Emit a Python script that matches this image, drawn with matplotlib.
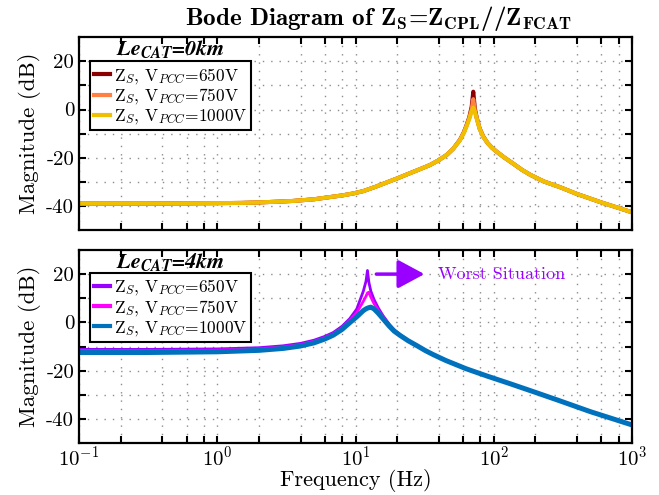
import matplotlib
matplotlib.use("Agg")
import matplotlib.pyplot as plt
from matplotlib.ticker import LogLocator, FixedLocator, NullFormatter

plt.rcParams['font.family'] = 'cmr10'
plt.rcParams['mathtext.fontset'] = 'cm'
plt.rcParams['axes.formatter.use_mathtext'] = True

# ---- data (Hz, dB) ----
# Le_CAT = 0 km
f_top = [0.1, 0.3, 1, 1.5, 2, 2.7, 3.5, 5, 6.5, 8, 9.6, 11.4, 14, 16.5, 19.9, 24, 29, 34.6,
         40, 45.7, 51, 57, 61, 63.7, 66.5, 69.2, 71.1, 73, 75.3, 79, 84, 90, 97, 105, 120,
         138, 160, 183, 230, 302, 400, 600, 800, 1000]
mag_top_1000 = [-39.0, -39.0, -38.8, -38.7, -38.5, -38.2, -37.9, -37.2, -36.3, -35.6, -34.8, -33.8,
                -32.0, -30.4, -28.6, -26.7, -24.8, -23.0, -21.0, -18.8, -16.2, -12.7, -9.5, -6.8,
                -4.0, -0.8, 0.8, -1.0, -3.8, -8.0, -11.4, -13.8, -15.8, -17.5, -20.0, -22.4,
                -25.0, -27.0, -29.8, -32.2, -35.0, -38.5, -40.8, -42.6]
mag_top_750 = [-39.0, -39.0, -38.8, -38.7, -38.5, -38.2, -37.9, -37.2, -36.3, -35.6, -34.8, -33.8,
               -32.0, -30.4, -28.6, -26.7, -24.8, -23.0, -21.0, -18.8, -16.2, -12.6, -9.4, -6.6,
               -3.6, 0.2, 4.3, -0.3, -3.6, -7.9, -11.3, -13.8, -15.8, -17.5, -20.0, -22.4,
               -25.0, -27.0, -29.8, -32.2, -35.0, -38.5, -40.8, -42.6]
mag_top_650 = [-39.0, -39.0, -38.8, -38.7, -38.5, -38.2, -37.9, -37.2, -36.3, -35.6, -34.8, -33.8,
               -32.0, -30.4, -28.6, -26.7, -24.8, -23.0, -21.0, -18.8, -16.2, -12.5, -9.2, -6.3,
               -3.2, 1.2, 7.4, 0.5, -3.4, -7.8, -11.2, -13.8, -15.8, -17.5, -20.0, -22.4,
               -25.0, -27.0, -29.8, -32.2, -35.0, -38.5, -40.8, -42.6]

# Le_CAT = 4 km
f_bot = [0.1, 0.3, 1, 2, 3, 4, 5, 6, 6.9, 8, 9.1, 10.2, 11.4, 11.9, 12.2, 12.5, 12.9, 13.6,
         14.6, 15.8, 17.5, 19, 21, 24, 27.7, 32, 36.6, 45, 63, 90, 131, 200, 300, 500, 1000]
mag_bot_650 = [-11.2, -11.2, -11.0, -10.5, -9.7, -8.7, -7.4, -5.8, -4.2, -1.6, 1.6, 5.5, 13.0,
               17.0, 21.5, 16.5, 13.0, 9.5, 6.0, 2.8, -0.7, -3.0, -5.1, -7.4, -9.4, -11.5,
               -13.3, -15.7, -19.1, -22.2, -25.4, -29.0, -32.5, -37.0, -42.5]
mag_bot_750 = [-11.7, -11.7, -11.5, -11.0, -10.2, -9.2, -7.9, -6.3, -4.7, -2.2, 0.9, 4.0, 8.8,
               10.8, 12.2, 12.5, 10.5, 7.8, 5.0, 2.3, -1.0, -3.3, -5.3, -7.5, -9.5, -11.6,
               -13.3, -15.7, -19.1, -22.2, -25.4, -29.0, -32.5, -37.0, -42.5]
mag_bot_1000 = [-12.5, -12.5, -12.2, -11.6, -10.8, -9.8, -8.5, -6.9, -5.3, -2.9, -0.1, 2.3, 4.9,
                5.6, 5.9, 6.1, 6.3, 5.6, 3.8, 1.5, -1.5, -3.6, -5.4, -7.6, -9.6, -11.7,
                -13.4, -15.8, -19.2, -22.3, -25.4, -29.0, -32.5, -37.0, -42.5]

lab_650 = r'Z$_{S}$, V$_{PCC}$=650V'
lab_750 = r'Z$_{S}$, V$_{PCC}$=750V'
lab_1000 = r'Z$_{S}$, V$_{PCC}$=1000V'

yticks = [-40, -20, 0, 20]
yticklabels = ['-40', '-20', '0', '20']
yminor = [-30, -10, 10]

fig = plt.figure(figsize=(6.59, 4.95), dpi=100)
ax1 = fig.add_axes([0.120, 0.535, 0.839, 0.390])
ax2 = fig.add_axes([0.120, 0.105, 0.839, 0.390])


def style_axes(ax):
    ax.set_xscale('log')
    ax.set_xlim(0.1, 1000)
    ax.set_ylim(-50, 30)
    ax.set_yticks(yticks)
    ax.set_yticklabels(yticklabels)
    ax.yaxis.set_minor_locator(FixedLocator(yminor))
    ax.xaxis.set_minor_locator(LogLocator(base=10, subs=[2, 4, 6, 8]))
    ax.xaxis.set_minor_formatter(NullFormatter())
    ax.tick_params(which='both', direction='in', top=True, right=True,
                   length=5, width=1.5, labelsize=15)
    ax.tick_params(axis='x', pad=2)
    ax.grid(True, which='both', linestyle=(0, (1, 5)), color='#8c8c8c', linewidth=1.0)
    for s in ax.spines.values():
        s.set_linewidth(1.6)
    ax.set_ylabel('Magnitude (dB)', fontsize=16.5)


def add_legend(ax, top):
    leg = ax.legend(loc='upper left', bbox_to_anchor=(0.02, top), fontsize=12.5,
                    handlelength=0.9, handletextpad=0.2, labelspacing=0.05,
                    borderpad=0.25, borderaxespad=0, fancybox=False, framealpha=1,
                    edgecolor='black')
    leg.get_frame().set_linewidth(1.5)
    for h in leg.get_lines():
        h.set_linewidth(3.0)


ax1.semilogx(f_top, mag_top_650, color='#8B0000', lw=2.9, label=lab_650)
ax1.semilogx(f_top, mag_top_750, color='#FF8040', lw=2.9, label=lab_750)
ax1.semilogx(f_top, mag_top_1000, color='#F0C000', lw=2.9, label=lab_1000)
style_axes(ax1)
ax1.set_xticklabels([])
ax1.text(0.165, 0.94, r'Le$_{\mathbfit{CAT}}$=0km', transform=ax1.transAxes,
         ha='center', va='center', fontsize=16, family='STIXGeneral',
         weight='bold', style='italic', math_fontfamily='stix')
add_legend(ax1, 0.875)

ax2.semilogx(f_bot, mag_bot_650, color='#9900FF', lw=2.0, label=lab_650)
ax2.semilogx(f_bot, mag_bot_750, color='#FF00FF', lw=2.0, label=lab_750)
ax2.semilogx(f_bot, mag_bot_1000, color='#0072BD', lw=3.6, label=lab_1000)
style_axes(ax2)
ax2.set_xlabel('Frequency (Hz)', fontsize=16, labelpad=-1)
ax2.text(0.165, 0.94, r'Le$_{\mathbfit{CAT}}$=4km', transform=ax2.transAxes,
         ha='center', va='center', fontsize=16, family='STIXGeneral',
         weight='bold', style='italic', math_fontfamily='stix')
add_legend(ax2, 0.881)

ax2.annotate('', xy=(33, 20), xytext=(13.5, 20),
             arrowprops=dict(arrowstyle='-|>,head_length=0.65,head_width=0.35',
                             mutation_scale=25, lw=2.5, color='#9900FF'))
ax2.text(39.5, 20, 'Worst Situation', color='#9900FF', fontsize=13,
         ha='left', va='center')

fig.text(0.575, 0.962, r'Bode Diagram of $\mathbf{Z_S}$=$\mathbf{Z_{CPL}}$//$\mathbf{Z_{FCAT}}$',
         ha='center', va='center', fontsize=18, family='cmb10')

fig.savefig('out.png', dpi=100)
